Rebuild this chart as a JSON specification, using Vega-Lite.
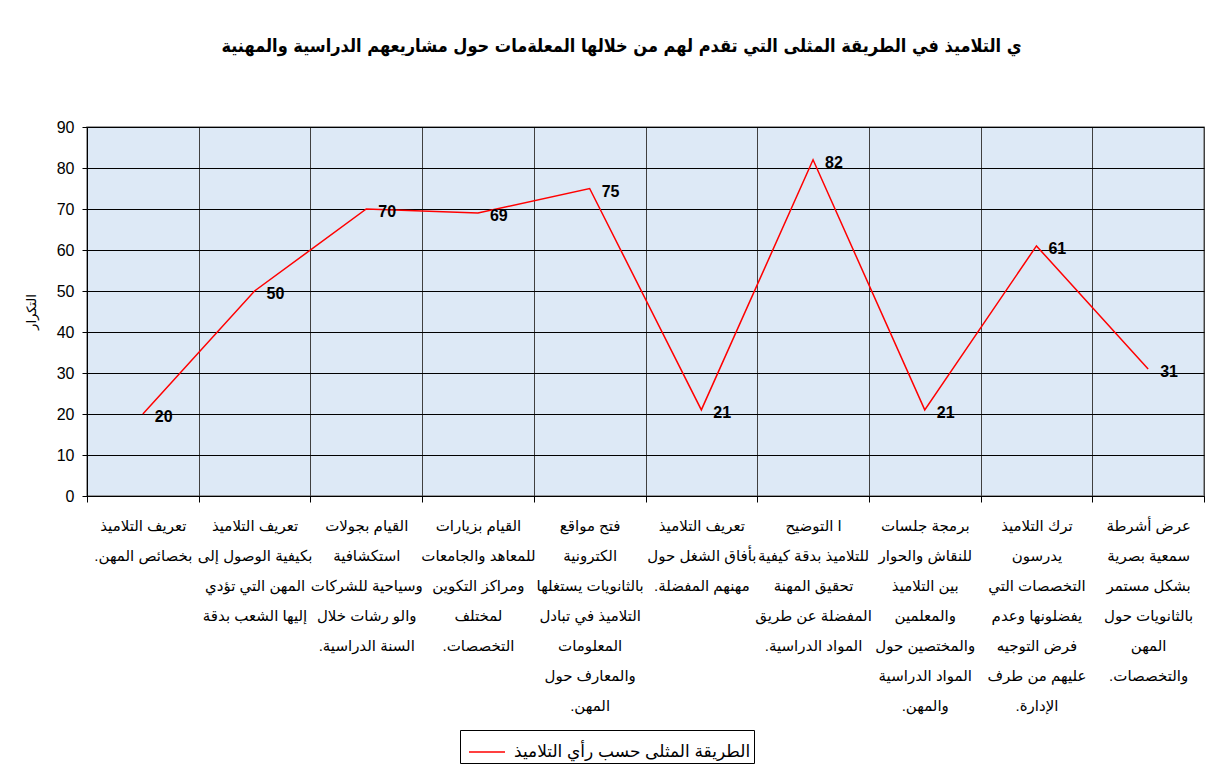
{
  "$schema": "https://vega.github.io/schema/vega-lite/v6.json",
  "width": 1117,
  "height": 369,
  "autosize": {"type": "none"},
  "padding": {"left": 87, "top": 127, "right": 16, "bottom": 278},
  "background": "white",
  "title": {
    "text": "ي التلاميذ في الطريقة المثلى التي تقدم لهم من خلالها المعلةمات حول مشاريعهم الدراسية والمهنية",
    "font": "DejaVu Sans Condensed, DejaVu Sans",
    "fontSize": 18,
    "fontWeight": "bold",
    "color": "black",
    "anchor": "middle",
    "offset": 63,
    "dx": -24
  },
  "data": {
    "values": [
      {"method": "تعريف التلاميذ|بخصائص المهن.\u200f", "count": 20, "series": "الطريقة المثلى حسب رأي التلاميذ"},
      {"method": "تعريف التلاميذ|بكيفية الوصول إلى|المهن التي تؤدي|إليها الشعب بدقة", "count": 50, "series": "الطريقة المثلى حسب رأي التلاميذ"},
      {"method": "القيام بجولات|استكشافية|وسياحية للشركات|والو رشات خلال|السنة الدراسية.\u200f", "count": 70, "series": "الطريقة المثلى حسب رأي التلاميذ"},
      {"method": "القيام بزيارات|للمعاهد والجامعات|ومراكز التكوين|لمختلف|التخصصات.\u200f", "count": 69, "series": "الطريقة المثلى حسب رأي التلاميذ"},
      {"method": "فتح مواقع|الكترونية|بالثانويات يستغلها|التلاميذ في تبادل|المعلومات|والمعارف حول|المهن.\u200f", "count": 75, "series": "الطريقة المثلى حسب رأي التلاميذ"},
      {"method": "تعريف التلاميذ|بأفاق الشغل حول|مهنهم المفضلة.\u200f", "count": 21, "series": "الطريقة المثلى حسب رأي التلاميذ"},
      {"method": "ا التوضيح|للتلاميذ بدقة كيفية|تحقيق المهنة|المفضلة عن طريق|المواد الدراسية.\u200f", "count": 82, "series": "الطريقة المثلى حسب رأي التلاميذ"},
      {"method": "برمجة جلسات|للنقاش والحوار|بين التلاميذ|والمعلمين|والمختصين حول|المواد الدراسية|والمهن.\u200f", "count": 21, "series": "الطريقة المثلى حسب رأي التلاميذ"},
      {"method": "ترك التلاميذ|يدرسون|التخصصات التي|يفضلونها وعدم|فرض التوجيه|عليهم من طرف|الإدارة.\u200f", "count": 61, "series": "الطريقة المثلى حسب رأي التلاميذ"},
      {"method": "عرض أشرطة|سمعية بصرية|بشكل مستمر|بالثانويات حول|المهن|والتخصصات.\u200f", "count": 31, "series": "الطريقة المثلى حسب رأي التلاميذ"}
    ]
  },
  "encoding": {
    "x": {
      "field": "method",
      "type": "nominal",
      "sort": null,
      "scale": {"type": "band", "paddingInner": 0, "paddingOuter": 0},
      "axis": {
        "title": null,
        "tickBand": "extent",
        "grid": true,
        "gridColor": "#404040",
        "gridWidth": 1,
        "domainColor": "black",
        "domainWidth": 1,
        "tickColor": "black",
        "tickSize": 6,
        "labelExpr": "isValid(datum.value) ? split(datum.value, '|') : ''",
        "labelAngle": 0,
        "labelAlign": "center",
        "labelBaseline": "top",
        "labelFont": "Liberation Sans, DejaVu Sans",
        "labelFontSize": 15,
        "labelLineHeight": 30,
        "labelPadding": 16,
        "labelOverlap": false,
        "labelLimit": 220,
        "labelColor": "black"
      }
    },
    "y": {
      "field": "count",
      "type": "quantitative",
      "scale": {"domain": [0, 90], "nice": false},
      "axis": {
        "values": [0, 10, 20, 30, 40, 50, 60, 70, 80, 90],
        "grid": true,
        "gridColor": "black",
        "gridWidth": 1,
        "domainColor": "black",
        "tickColor": "black",
        "tickSize": 5,
        "labelFont": "Liberation Sans, DejaVu Sans",
        "labelFontSize": 16,
        "labelPadding": 8,
        "labelColor": "black",
        "title": "التكرار",
        "titleFont": "Liberation Sans, DejaVu Sans",
        "titleFontSize": 13,
        "titleFontWeight": "normal",
        "titleColor": "black",
        "titlePadding": 18
      }
    }
  },
  "layer": [
    {
      "mark": {"type": "line", "strokeWidth": 1.5},
      "encoding": {
        "color": {
          "field": "series",
          "type": "nominal",
          "scale": {"range": ["#ff0000"]},
          "legend": {
            "title": null,
            "orient": "none",
            "legendX": 373,
            "legendY": 603,
            "direction": "horizontal",
            "strokeColor": "black",
            "fillColor": "white",
            "padding": 3,
            "symbolType": "stroke",
            "symbolSize": 1300,
            "symbolStrokeWidth": 1.5,
            "symbolOffset": 5,
            "labelFont": "Liberation Sans, DejaVu Sans",
            "labelFontSize": 17,
            "labelOffset": 8,
            "labelColor": "black",
            "labelLimit": 400
          }
        }
      }
    },
    {
      "mark": {
        "type": "text",
        "align": "left",
        "baseline": "middle",
        "dx": 12,
        "dy": 3,
        "font": "Liberation Sans, DejaVu Sans",
        "fontSize": 16,
        "fontWeight": "bold",
        "color": "black"
      },
      "encoding": {"text": {"field": "count", "type": "quantitative"}}
    }
  ],
  "config": {
    "view": {"fill": "#dde9f6", "stroke": "#808080", "strokeWidth": 1.5}
  }
}
